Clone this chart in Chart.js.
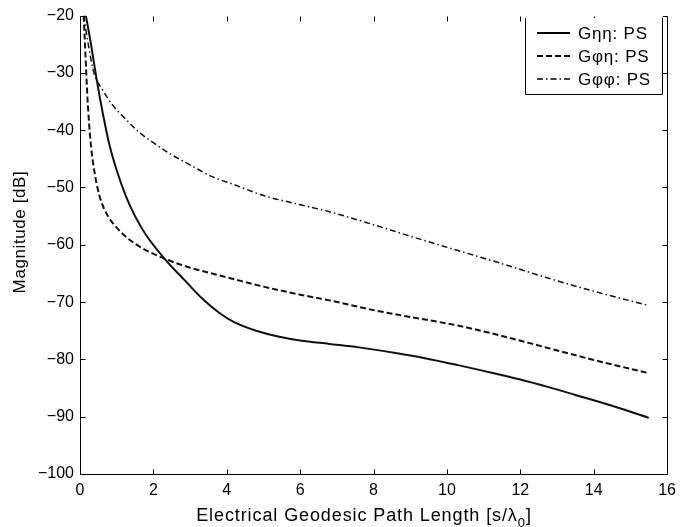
<!DOCTYPE html>
<html>
<head>
<meta charset="utf-8">
<script src="https://cdn.jsdelivr.net/npm/chart.js@4/dist/chart.umd.min.js"></script>
<style>
  html, body { margin: 0; padding: 0; background: #fff; }
  #wrap { width: 683px; height: 527px; }
</style>
</head>
<body>
<div id="wrap"><canvas id="chart" width="683" height="527"></canvas></div>
<script>
// --- data ---
const etaEtaX = [0.16, 0.3, 0.45, 0.62, 0.8, 1.0, 1.25, 1.5, 1.8, 2.3, 2.87, 3.3, 3.8, 4.2, 4.8, 5.4, 6.0, 6.8, 7.6, 8.6, 9.4, 10.3, 11.0, 12.0, 12.75, 13.5, 14.5, 15.5];
const etaEtaY = [-20, -25, -31, -37, -42.5, -47, -51.5, -55, -58.3, -62.4, -66.3, -69.2, -71.9, -73.5, -75.0, -76.0, -76.7, -77.3, -77.9, -78.9, -79.8, -81, -82, -83.5, -84.8, -86.2, -88.1, -90.2];

const phiEtaX = [0.1, 0.15, 0.2, 0.25, 0.3, 0.4, 0.52, 0.65, 0.8, 1.0, 1.25, 1.7, 2.3, 2.9, 3.6, 4.2, 5.0, 6.0, 6.8, 8.0, 9.0, 10.3, 11.5, 12.75, 14.0, 15.5];
const phiEtaY = [-20, -27, -34, -39, -42.8, -47.5, -51.2, -53.6, -55.4, -57, -58.6, -60.6, -62.4, -63.8, -65, -66, -67.3, -68.7, -69.7, -71.4, -72.6, -74.1, -75.9, -78, -80.1, -82.4];

const phiPhiX = [0.1, 0.22, 0.38, 0.62, 0.9, 1.25, 1.6, 1.98, 2.5, 2.87, 3.6, 4.2, 5.0, 6.0, 6.78, 8.0, 9.0, 10.3, 11.5, 12.75, 14.0, 15.5];
const phiPhiY = [-20, -24.8, -30, -33, -35.7, -38.1, -40.3, -42.1, -44.3, -45.6, -48.1, -49.5, -51.4, -53, -54.2, -56.5, -58.5, -61, -63.3, -65.8, -68.1, -70.6];

const seriesLabels = ['G\u03b7\u03b7: PS', 'G\u03c6\u03b7: PS', 'G\u03c6\u03c6: PS'];
const xTicks = [0, 2, 4, 6, 8, 10, 12, 14, 16];
const yTicks = [-100, -90, -80, -70, -60, -50, -40, -30, -20];
const xTitle = ['Electrical Geodesic Path Length [s/\u03bb', '0', ']'];
const yTitle = 'Magnitude [dB]';

const FONT = '"Liberation Sans", Arial, Helvetica, sans-serif';

function pts(xs, ys) {
    return xs.map((x, i) => ({ x: x, y: ys[i] }));
}

const dashes = [[], [6, 3], [6, 3, 1.5, 3]];
const widths = [2, 2, 1.5];

// frame, inside ticks, titles and legend drawn by hand (Matlab look)
const framePlugin = {
    id: 'frame',
    afterDatasetsDraw(chart) {
        const ctx = chart.ctx;
        const a = chart.chartArea;
        const xs = chart.scales.x, ys = chart.scales.y;
        ctx.save();
        ctx.strokeStyle = '#000';
        ctx.lineWidth = 1;
        ctx.setLineDash([]);
        const L = Math.round(a.left) + 0.5, R = Math.round(a.right) + 0.5;
        const T = Math.round(a.top) + 0.5, B = Math.round(a.bottom) + 0.5;
        ctx.beginPath();
        // no top line in the scan: left, bottom, right only
        ctx.moveTo(L, T); ctx.lineTo(L, B); ctx.lineTo(R, B); ctx.lineTo(R, T);
        const len = 5;
        xTicks.forEach(v => {
            const px = Math.round(xs.getPixelForValue(v)) + 0.5;
            ctx.moveTo(px, B); ctx.lineTo(px, B - len);
            ctx.moveTo(px, T); ctx.lineTo(px, T + len);
        });
        yTicks.forEach(v => {
            const py = Math.round(ys.getPixelForValue(v)) + 0.5;
            ctx.moveTo(L, py); ctx.lineTo(L + len, py);
            ctx.moveTo(R, py); ctx.lineTo(R - len, py);
        });
        ctx.stroke();

        ctx.fillStyle = '#000';

        // x title with subscript
        ctx.font = '18px ' + FONT;
        ctx.letterSpacing = '0.9px';
        ctx.textBaseline = 'alphabetic';
        ctx.textAlign = 'left';
        const w0 = ctx.measureText(xTitle[0]).width;
        ctx.font = '13px ' + FONT;
        const w1 = ctx.measureText(xTitle[1]).width;
        ctx.font = '18px ' + FONT;
        const w2 = ctx.measureText(xTitle[2]).width;
        let tx = 364 - (w0 + w1 + w2) / 2;
        const base = 521;
        ctx.fillText(xTitle[0], tx, base);
        tx += w0;
        ctx.font = '13px ' + FONT;
        ctx.fillText(xTitle[1], tx, base + 6);
        tx += w1;
        ctx.font = '18px ' + FONT;
        ctx.fillText(xTitle[2], tx, base);

        // y title
        ctx.save();
        ctx.translate(20, 232);
        ctx.rotate(-Math.PI / 2);
        ctx.textAlign = 'center';
        ctx.textBaseline = 'middle';
        ctx.font = '17px ' + FONT;
        ctx.letterSpacing = '0.6px';
        ctx.fillText(yTitle, 0, 0);
        ctx.restore();

        // legend box (top edge lost in the scan too)
        const bl = 525.5, br = 662.5, bt = 18, bb = 94.5;
        ctx.fillStyle = '#fff';
        ctx.fillRect(bl, bt, br - bl, bb - bt);
        ctx.beginPath();
        ctx.moveTo(bl, bt); ctx.lineTo(bl, bb); ctx.lineTo(br, bb); ctx.lineTo(br, bt);
        ctx.stroke();
        ctx.fillStyle = '#000';
        ctx.font = '17px ' + FONT;
        ctx.letterSpacing = '0.8px';
        ctx.textAlign = 'left';
        ctx.textBaseline = 'middle';
        const rows = [33, 56, 79];
        seriesLabels.forEach((lab, i) => {
            const y = rows[i];
            ctx.beginPath();
            ctx.setLineDash(dashes[i]);
            ctx.lineWidth = widths[i];
            ctx.moveTo(537, y); ctx.lineTo(570, y);
            ctx.stroke();
            ctx.fillText(lab, 578, y + 1);
        });
        ctx.restore();
    }
};

const ctx = document.getElementById('chart').getContext('2d');
new Chart(ctx, {
    type: 'line',
    data: {
        datasets: [
            { label: seriesLabels[0], data: pts(etaEtaX, etaEtaY), borderDash: dashes[0], borderWidth: widths[0] },
            { label: seriesLabels[1], data: pts(phiEtaX, phiEtaY), borderDash: dashes[1], borderWidth: widths[1] },
            { label: seriesLabels[2], data: pts(phiPhiX, phiPhiY), borderDash: dashes[2], borderWidth: widths[2] }
        ].map(d => Object.assign(d, {
            borderColor: '#111',
            pointRadius: 0,
            fill: false,
            cubicInterpolationMode: 'monotone'
        }))
    },
    options: {
        responsive: false,
        animation: false,
        layout: { padding: { top: 9, right: 14, left: 0, bottom: 0 } },
        plugins: { legend: { display: false }, tooltip: { enabled: false } },
        scales: {
            x: {
                type: 'linear', min: 0, max: 16,
                afterBuildTicks: s => { s.ticks = xTicks.map(v => ({ value: v })); },
                afterFit: s => { s.height = 53; },
                grid: { display: false, drawTicks: false },
                border: { display: false },
                ticks: { color: '#000', padding: 7, maxRotation: 0, font: { family: FONT, size: 16 } }
            },
            y: {
                min: -100, max: -20,
                afterBuildTicks: s => { s.ticks = yTicks.map(v => ({ value: v })); },
                afterFit: s => { s.width = 80; },
                grid: { display: false, drawTicks: false },
                border: { display: false },
                ticks: { color: '#000', padding: 6, font: { family: FONT, size: 16 },
                    callback: v => String(v).replace('-', '\u2212') }
            }
        }
    },
    plugins: [framePlugin]
});
</script>
</body>
</html>
